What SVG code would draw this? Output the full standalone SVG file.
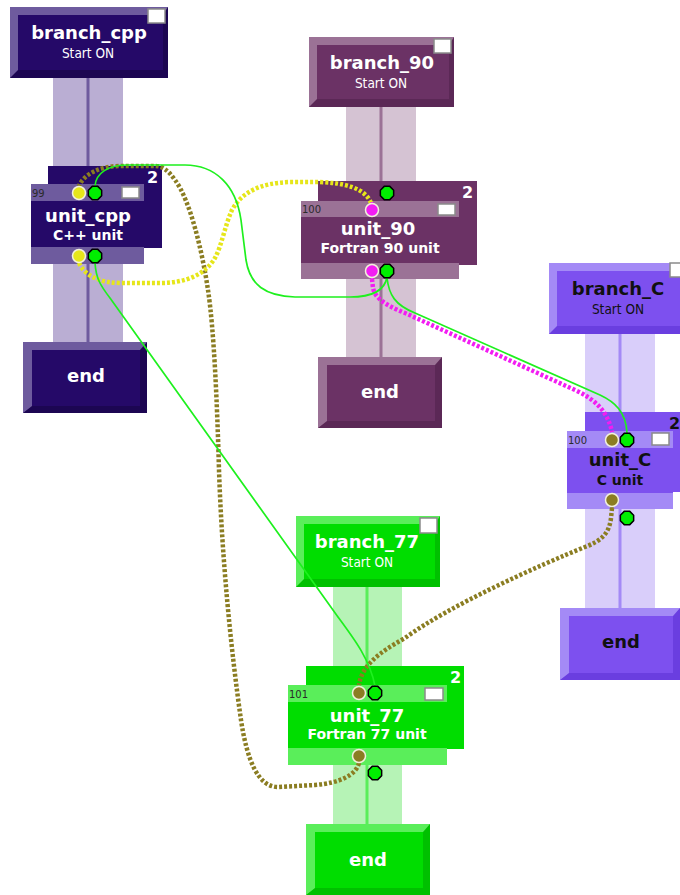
<svg xmlns="http://www.w3.org/2000/svg" width="680" height="895" viewBox="0 0 680 895">
  <style>
    .title { font-family: "DejaVu Sans", "Liberation Sans", sans-serif; font-weight: bold; font-size: 18px; text-anchor: middle; }
    .sub { font-family: "DejaVu Sans Condensed", "DejaVu Sans", sans-serif; font-size: 13.5px; text-anchor: middle; }
    .usub { font-family: "DejaVu Sans", "Liberation Sans", sans-serif; font-weight: bold; font-size: 14px; text-anchor: middle; }
    .num { font-family: "DejaVu Sans", sans-serif; font-size: 10px; fill: #2a2a2a; }
    .cnt { font-family: "DejaVu Sans", sans-serif; font-weight: bold; font-size: 16px; }
    .w { fill: #ffffff; }
    .k { fill: #111111; }
    .chk { fill: #ffffff; stroke: #8a8a8a; stroke-width: 1.5; }
    .pin { stroke: #f2f0dc; stroke-width: 1.5; }
    .thin { fill: none; stroke: #1ef01e; stroke-width: 1.7; }
    .dot { fill: none; stroke-width: 4.5; stroke-dasharray: 3 2; }
    /* palettes */
    .cpp-l { fill: #6e5b9e; } .cpp-f { fill: #250968; } .cpp-d { fill: #1c0652; } .cpp-b { fill: #baaed3; }
    .f90-l { fill: #9b7296; } .f90-f { fill: #6b3265; } .f90-d { fill: #5b2856; } .f90-b { fill: #d5c3d3; }
    .c-l { fill: #a48af6; } .c-f { fill: #7d50ef; } .c-d { fill: #6a3ee0; } .c-b { fill: #d9cefa; }
    .f77-l { fill: #5aee5a; } .f77-f { fill: #00dd00; } .f77-d { fill: #00c000; } .f77-b { fill: #b6f3b6; }
  </style>
  <defs>
    <polygon id="gport" points="6.65,2.76 2.76,6.65 -2.76,6.65 -6.65,2.76 -6.65,-2.76 -2.76,-6.65 2.76,-6.65 6.65,-2.76" fill="#00ee00" stroke="#000000" stroke-width="1.5"/>
  </defs>

  <!-- lanes behind each branch -->
  <g id="lanes">
    <rect class="cpp-b" x="53" y="78" width="70" height="264"/>
    <rect class="cpp-l" x="86.5" y="78" width="3" height="264"/>
    <rect class="f90-b" x="346" y="107" width="70" height="250"/>
    <rect class="f90-l" x="379.5" y="107" width="3" height="250"/>
    <rect class="c-b" x="585" y="334" width="70" height="274"/>
    <rect class="c-l" x="618.5" y="334" width="3" height="274"/>
    <rect class="f77-b" x="333" y="587" width="69" height="237"/>
    <rect class="f77-l" x="365.5" y="587" width="3" height="237"/>
  </g>

  <!-- branch_cpp -->
  <g id="branch_cpp">
    <rect class="cpp-l" x="10" y="7" width="158" height="71"/>
    <polygon class="cpp-d" points="10,78 168,78 168,7 163,15 163,70 18,70"/>
    <rect class="cpp-f" x="18" y="15" width="145" height="55"/>
    <rect class="chk" x="148" y="9" width="17" height="14"/>
    <text class="title w" x="89" y="39">branch_cpp</text>
    <text class="sub w" x="88" y="58">Start ON</text>
  </g>
  <g id="unit_cpp">
    <rect class="cpp-f" x="48" y="166" width="114" height="82"/>
    <rect class="cpp-f" x="31" y="184" width="113" height="80"/>
    <rect class="cpp-l" x="31" y="184" width="113" height="17"/>
    <rect class="cpp-l" x="31" y="247" width="113" height="17"/>
    <rect class="chk" x="122" y="187" width="17" height="11"/>
    <text class="cnt w" x="147" y="183">2</text>
    <text class="num" x="32" y="197">99</text>
    <text class="title w" x="88" y="222">unit_cpp</text>
    <text class="usub w" x="88" y="240">C++ unit</text>
  </g>
  <g id="end_cpp">
    <rect class="cpp-l" x="23" y="342" width="124" height="71"/>
    <polygon class="cpp-d" points="23,413 147,413 147,342 140,350 140,406 32,406"/>
    <rect class="cpp-f" x="32" y="350" width="108" height="56"/>
    <text class="title w" x="86" y="382">end</text>
  </g>

  <!-- branch_90 -->
  <g id="branch_90">
    <rect class="f90-l" x="309" y="37" width="145" height="70"/>
    <polygon class="f90-d" points="309,107 454,107 454,37 449,45 449,99 317,99"/>
    <rect class="f90-f" x="317" y="45" width="132" height="54"/>
    <rect class="chk" x="434" y="39" width="17" height="14"/>
    <text class="title w" x="382" y="69">branch_90</text>
    <text class="sub w" x="381" y="88">Start ON</text>
  </g>
  <g id="unit_90">
    <rect class="f90-f" x="318" y="181" width="159" height="84"/>
    <rect class="f90-f" x="301" y="201" width="158" height="78"/>
    <rect class="f90-l" x="301" y="201" width="158" height="16"/>
    <rect class="f90-l" x="301" y="263" width="158" height="16"/>
    <rect class="chk" x="438" y="204" width="17" height="11"/>
    <text class="cnt w" x="462" y="198">2</text>
    <text class="num" x="302" y="213">100</text>
    <text class="title w" x="378" y="235">unit_90</text>
    <text class="usub w" x="380" y="253">Fortran 90 unit</text>
  </g>
  <g id="end_90">
    <rect class="f90-l" x="318" y="357" width="124" height="71"/>
    <polygon class="f90-d" points="318,428 442,428 442,357 435,365 435,421 327,421"/>
    <rect class="f90-f" x="327" y="365" width="108" height="56"/>
    <text class="title w" x="380" y="398">end</text>
  </g>

  <!-- branch_C -->
  <g id="branch_C">
    <rect class="c-l" x="549" y="263" width="145" height="71"/>
    <polygon class="c-d" points="549,334 694,334 694,263 689,271 689,326 557,326"/>
    <rect class="c-f" x="557" y="271" width="132" height="55"/>
    <rect class="chk" x="670" y="263" width="17" height="14"/>
    <text class="title k" x="618" y="295">branch_C</text>
    <text class="sub k" x="618" y="314">Start ON</text>
  </g>
  <g id="unit_C">
    <rect class="c-f" x="585" y="412" width="110" height="80"/>
    <rect class="c-f" x="567" y="431" width="106" height="78"/>
    <rect class="c-l" x="567" y="431" width="106" height="17"/>
    <rect class="c-l" x="567" y="493" width="106" height="16"/>
    <rect class="chk" x="652" y="433" width="17" height="12"/>
    <text class="cnt k" x="669" y="429">2</text>
    <text class="num" x="568" y="444">100</text>
    <text class="title k" x="620" y="466">unit_C</text>
    <text class="usub k" x="620" y="485">C unit</text>
  </g>
  <g id="end_C">
    <rect class="c-l" x="560" y="608" width="120" height="72"/>
    <polygon class="c-d" points="560,680 680,680 680,608 673,616 673,673 569,673"/>
    <rect class="c-f" x="569" y="616" width="104" height="57"/>
    <text class="title k" x="621" y="648">end</text>
  </g>

  <!-- branch_77 -->
  <g id="branch_77">
    <rect class="f77-l" x="296" y="516" width="144" height="71"/>
    <polygon class="f77-d" points="296,587 440,587 440,516 435,524 435,579 304,579"/>
    <rect class="f77-f" x="304" y="524" width="131" height="55"/>
    <rect class="chk" x="420" y="518" width="17" height="15"/>
    <text class="title w" x="367" y="548">branch_77</text>
    <text class="sub w" x="367" y="567">Start ON</text>
  </g>
  <g id="unit_77">
    <rect class="f77-f" x="306" y="666" width="158" height="83"/>
    <rect class="f77-f" x="288" y="685" width="159" height="80"/>
    <rect class="f77-l" x="288" y="685" width="159" height="17"/>
    <rect class="f77-l" x="288" y="748" width="159" height="17"/>
    <rect class="chk" x="425" y="688" width="18" height="12"/>
    <text class="cnt w" x="450" y="683">2</text>
    <text class="num" x="289" y="698">101</text>
    <text class="title w" x="367" y="722">unit_77</text>
    <text class="usub w" x="367" y="739">Fortran 77 unit</text>
  </g>
  <g id="end_77">
    <rect class="f77-l" x="306" y="824" width="124" height="71"/>
    <polygon class="f77-d" points="306,895 430,895 430,824 423,832 423,888 315,888"/>
    <rect class="f77-f" x="315" y="832" width="108" height="56"/>
    <text class="title w" x="368" y="866">end</text>
  </g>

  <!-- connectors -->
  <g id="connectors">
    <path class="dot" stroke="#8b7d22" stroke-width="5" d="M 359 763 C 356 775, 340 783, 315 785 L 278 787 C 258 787, 247 760, 241 720 C 231 650, 222 560, 219 470 C 217 400, 214 330, 208 290 C 202 250, 190 200, 175 180 C 168 170, 162 166, 155 166 L 120 166 C 100 166, 84 174, 79 186"/>
    <path class="dot" stroke="#e6e61a" d="M 79 263 C 85 276, 100 283, 122 283 L 160 283 C 185 283, 205 275, 215 258 C 222 245, 225 225, 232 210 C 242 192, 260 183, 290 182 L 320 182 C 345 183, 365 188, 371 203"/>
    <path class="dot" stroke="#f21df2" d="M 372 279 L 373 288 C 375 298, 385 305, 405 313 L 575 390 C 595 399, 608 412, 612 432"/>
    <path class="dot" stroke="#8b7d22" stroke-width="5" d="M 612 508 L 611 518 C 609 535, 600 541, 585 547 C 540 565, 450 605, 405 638 C 380 652, 362 665, 359 685"/>
    <path class="thin" d="M 387 277 C 385 290, 372 297, 350 297 L 295 297 C 265 296, 250 285, 246 260 L 241 220 C 236 185, 215 165, 185 165 L 128 165 C 108 165, 96 173, 95 186"/>
    <path class="thin" d="M 387 278 C 389 295, 395 305, 415 313 L 600 395 C 615 402, 626 412, 627 433"/>
    <path class="thin" d="M 95 263 C 96 278, 100 285, 110 298 L 338 617 C 355 640, 370 660, 375 686"/>
  </g>

  <!-- ports -->
  <g id="ports">
    <circle class="pin" cx="79" cy="193" r="6.5" fill="#e6e61a"/>
    <use href="#gport" x="95" y="193"/>
    <rect x="77.5" y="258" width="3" height="6" fill="#e6e61a"/>
    <circle class="pin" cx="79" cy="256" r="6.5" fill="#e6e61a"/>
    <use href="#gport" x="95" y="256"/>

    <rect x="370.5" y="202" width="3" height="6" fill="#f21df2"/>
    <circle class="pin" cx="372" cy="210" r="6.5" fill="#f21df2"/>
    <use href="#gport" x="387" y="193"/>
    <rect x="370.5" y="273" width="3" height="6" fill="#f21df2"/>
    <circle class="pin" cx="372" cy="271" r="6.5" fill="#f21df2"/>
    <use href="#gport" x="387" y="271"/>

    <circle class="pin" cx="612" cy="440" r="6.5" fill="#8b7d22"/>
    <use href="#gport" x="627" y="440"/>
    <rect x="610.5" y="502" width="3" height="6" fill="#8b7d22"/>
    <circle class="pin" cx="612" cy="500" r="6.5" fill="#8b7d22"/>
    <use href="#gport" x="627" y="518"/>

    <circle class="pin" cx="359" cy="693" r="6.5" fill="#8b7d22"/>
    <use href="#gport" x="375" y="693"/>
    <rect x="357.5" y="758" width="3" height="6" fill="#8b7d22"/>
    <circle class="pin" cx="359" cy="756" r="6.5" fill="#8b7d22"/>
    <use href="#gport" x="375" y="773"/>
  </g>
</svg>
